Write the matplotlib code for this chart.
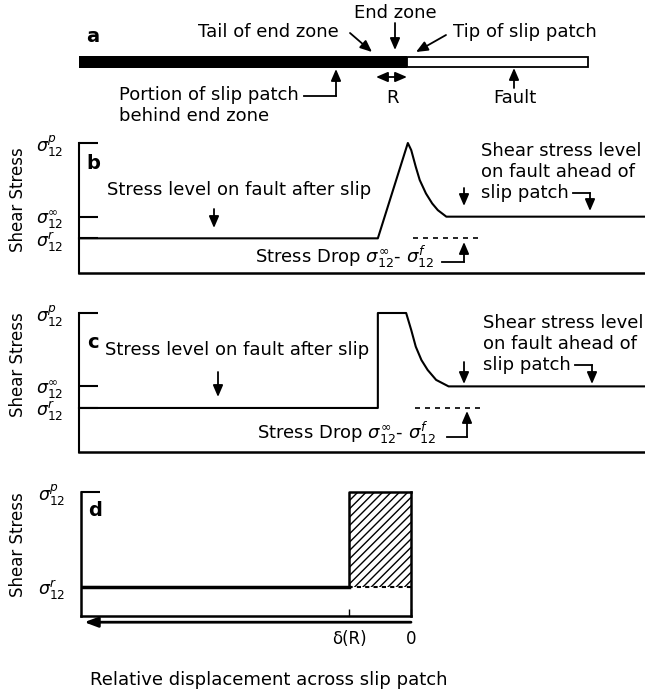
import matplotlib.pyplot as plt

plt.rcParams['font.family'] = 'DejaVu Sans'
plt.rcParams['mathtext.fontset'] = 'dejavusans'
plt.rcParams['hatch.linewidth'] = 1.0

W, H = 645, 691

# panel a: distance along fault (0 = left end, 100 = right edge of figure)
fault_end = 90
slip_tip = 58
endzone_start = 52.8

# stress levels (residual = 0, remote = 1, peak = 4.4)
s_r = 0.0
s_inf = 1.0
s_p = 4.4

# panel b: linear rise through the end zone, then decay ahead of the tip
b_x = [0, 52.8, 58.1, 58.7, 59.5, 60.2, 61.3, 62.4, 63.4, 64.9, 100]
b_y = [0, 0, 4.4, 4.07, 3.30, 2.69, 2.07, 1.61, 1.30, 1.0, 1.0]

# panel c: constant peak stress in the end zone
c_x = [0, 52.8, 52.8, 57.8, 58.7, 59.5, 60.5, 61.6, 63.1, 65.3, 100]
c_y = [0, 0, 4.4, 4.4, 3.61, 2.84, 2.22, 1.76, 1.30, 1.0, 1.0]

drop_b = [59.0, 71.0]
drop_c = [59.4, 71.4]

# panel d: stress vs relative displacement
d_R = 1.0
d_left = 5.32
d_r = 0.0
d_p = 1.0

sig_p = r'$\sigma_{12}^{p}$'
sig_inf = r'$\sigma_{12}^{\infty}$'
sig_r = r'$\sigma_{12}^{r}$'
drop_label = r'Stress Drop $\sigma_{12}^{\infty}$- $\sigma_{12}^{f}$'


def rect(x0, y0, x1, y1):
    return [x0 / W, 1 - y1 / H, (x1 - x0) / W, (y1 - y0) / H]


fig = plt.figure(figsize=(W / 100, H / 100), dpi=100)

# ---- a
axa = fig.add_axes(rect(79, 42, 645, 82))
axa.barh(0, slip_tip, left=0, height=1.2, color='k')
axa.barh(0, fault_end - slip_tip, left=slip_tip, height=1.05, color='white',
         edgecolor='k', linewidth=1.3)
axa.set_xlim(0, 100)
axa.set_ylim(-2, 2)
axa.axis('off')


def stress_axes(r, profile_x, profile_y, drop_x, ybot):
    ax = fig.add_axes(rect(*r))
    ax.plot(profile_x, profile_y, color='k', lw=1.5, clip_on=False)
    ax.plot(drop_x, [s_r, s_r], color='k', lw=1.2, ls=(0, (3, 3)))
    ax.set_xlim(0, 100)
    ax.set_ylim(ybot, s_p)
    for s in ['top', 'right']:
        ax.spines[s].set_visible(False)
    ax.spines['left'].set_linewidth(1.5)
    ax.spines['bottom'].set_linewidth(1.8)
    ax.set_xticks([])
    ax.set_yticks([s_r, s_inf, s_p], [sig_r, sig_inf, sig_p])
    ax.tick_params(axis='y', direction='in', length=14, width=1.5, pad=11, labelsize=12.5)
    return ax


axb = stress_axes((79, 143, 645, 273), b_x, b_y, drop_b, -1.6)
axc = stress_axes((79, 313, 645, 452), c_x, c_y, drop_c, -2.04)

# ---- d
axd = fig.add_axes(rect(81, 492, 411, 616))
axd.fill_between([0, d_R], d_r, d_p, facecolor='none', edgecolor='k', hatch='////', linewidth=0)
axd.plot([d_R, d_R, 0], [d_r, d_p, d_p], color='k', lw=1.8, clip_on=False)
axd.plot([0, d_R], [d_r, d_r], color='k', lw=1.5, ls=(0, (2, 2)))
axd.plot([d_left, d_R], [d_r, d_r], color='k', lw=2.5)
axd.set_xlim(d_left, 0)
axd.set_ylim(-0.305, d_p)
axd.spines['top'].set_visible(False)
for s in ['left', 'right', 'bottom']:
    axd.spines[s].set_linewidth(1.8)
axd.set_yticks([d_r, d_p], [sig_r, sig_p])
axd.tick_params(axis='y', direction='in', length=14, width=1.5, pad=11, labelsize=12.5)
axd.set_xticks([d_R, 0], ['δ(R)', '0'])
axd.tick_params(axis='x', direction='in', length=5, width=1, pad=10, labelsize=12)
axd.annotate('', xy=(0.01, -0.05), xytext=(1.0, -0.05), xycoords='axes fraction',
             arrowprops=dict(arrowstyle='-|>,head_length=0.8,head_width=0.3', color='k',
                             lw=2, shrinkA=0, shrinkB=0))

# ---- overlay for labels and arrows (pixel coordinates)
ov = fig.add_axes([0, 0, 1, 1])
ov.set_xlim(0, W)
ov.set_ylim(H, 0)
ov.axis('off')
ov.patch.set_alpha(0)

fs = 13


def txt(x, y, s, ha='left', **kw):
    ov.text(x, y, s, ha=ha, va='center', fontsize=kw.pop('size', fs), **kw)


def arrow(x0, y0, x1, y1, style='-|>'):
    ov.annotate('', xy=(x1, y1), xytext=(x0, y0),
                arrowprops=dict(arrowstyle=style + ',head_length=0.7,head_width=0.3',
                                color='k', lw=1.3, shrinkA=0, shrinkB=0))


def line(xs, ys):
    ov.plot(xs, ys, color='k', lw=1.3)


# a
txt(93, 36, 'a', ha='center', size=14, weight='bold')
txt(339, 32, 'Tail of end zone', ha='right')
arrow(350, 33, 372, 52)
txt(395, 13, 'End zone', ha='center')
arrow(395, 23, 395, 50)
txt(453, 32, 'Tip of slip patch')
arrow(446, 35, 416, 52)
txt(119, 95, 'Portion of slip patch')
txt(119, 116, 'behind end zone')
line([304, 336], [96, 96])
arrow(336, 96, 336, 69)
arrow(376, 77, 407, 77, style='<|-|>')
txt(393, 98, 'R', ha='center')
arrow(514, 88, 514, 68)
txt(515, 98, 'Fault', ha='center')

# b
txt(18, 200, 'Shear Stress', ha='center', size=12, rotation=90)
txt(93, 163, 'b', ha='center', size=14, weight='bold')
txt(107, 190, 'Stress level on fault after slip')
arrow(214, 209, 214, 228)
txt(481, 151, 'Shear stress level')
txt(481, 172, 'on fault ahead of')
txt(481, 193, 'slip patch')
line([573, 590], [193, 193])
arrow(590, 193, 590, 211)
arrow(464, 188, 464, 206)
txt(255, 257, drop_label)
line([442, 464], [262, 262])
arrow(464, 262, 464, 242)

# c
txt(18, 365, 'Shear Stress', ha='center', size=12, rotation=90)
txt(93, 342, 'c', ha='center', size=14, weight='bold')
txt(105, 350, 'Stress level on fault after slip')
arrow(218, 372, 218, 397)
txt(483, 323, 'Shear stress level')
txt(483, 344, 'on fault ahead of')
txt(483, 365, 'slip patch')
line([575, 592], [365, 365])
arrow(592, 365, 592, 384)
arrow(464, 362, 464, 384)
txt(257, 433, drop_label)
line([447, 467], [437, 437])
arrow(467, 437, 467, 411)

# d
txt(18, 545, 'Shear Stress', ha='center', size=12, rotation=90)
txt(95, 510, 'd', ha='center', size=14, weight='bold')
txt(269, 680, 'Relative displacement across slip patch', ha='center')

fig.savefig('out.png', dpi=100)
